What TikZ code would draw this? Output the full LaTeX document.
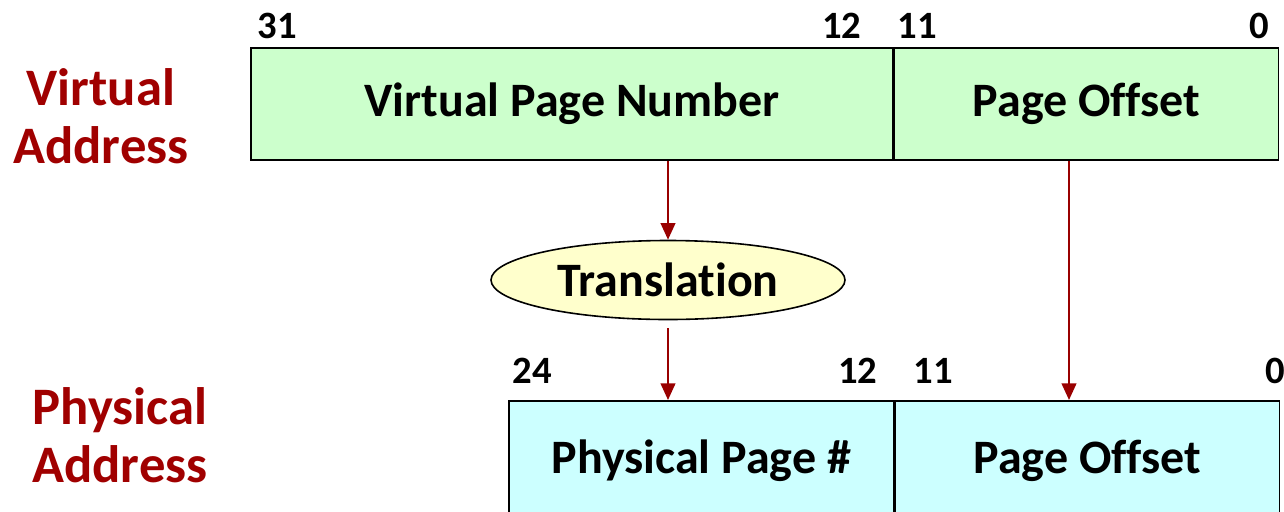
\documentclass[tikz,border=0pt]{standalone}
\usepackage{fontspec}
\setmainfont{Carlito}[Ligatures=NoCommon]
\usetikzlibrary{shapes.geometric,arrows.meta}
\definecolor{vgreen}{RGB}{204,255,204}
\definecolor{pcyan}{RGB}{204,255,255}
\definecolor{tyellow}{RGB}{255,255,204}
\definecolor{arrowred}{RGB}{153,0,0}
\definecolor{labelred}{RGB}{160,0,0}
\tikzset{every picture/.style={line width=0.75pt}}

\begin{document}
\begin{tikzpicture}[x=0.75pt,y=0.75pt,yscale=-1,xscale=1,
  field/.style={draw,line width=1.2pt,inner sep=0pt,font=\fontsize{36}{40}\selectfont\bfseries},
  bitno/.style={inner sep=0pt,font=\fontsize{29}{30}\selectfont\bfseries},
  flow/.style={draw=arrowred,line width=1.6pt,-{Triangle[width=11pt,length=12.5pt]}},
  side/.style={text=labelred,align=center,inner sep=0pt,font=\fontsize{39.5}{43.5}\selectfont\bfseries}]
\useasboundingbox (0,0) rectangle (1284,511);

%Virtual address fields
\node[field,fill=vgreen,minimum width=481.5pt,minimum height=84pt] (vpn) at (572,104) {Virtual Page Number};
\node[field,fill=vgreen,minimum width=288pt,minimum height=84pt,anchor=west] (vpo) at (vpn.east) {Page Offset};

%Physical address fields
\node[field,fill=pcyan,minimum width=288.75pt,minimum height=90pt,anchor=north west] (ppn) at (508,400) {Physical Page \#};
\node[field,fill=pcyan,minimum width=288pt,minimum height=90pt,anchor=north west] (ppo) at (ppn.north east) {Page Offset};

%Translation
\node[field,ellipse,fill=tyellow,minimum width=265.5pt,minimum height=59.25pt] (trans) at (668,280) {Translation};

%Bit numbers
\node[bitno,anchor=base west] (v31) at (257,38) {31};
\node[bitno,anchor=base east] (v12) at (862,38) {12};
\node[bitno,anchor=base west] (v11) at (897,38) {11};
\node[bitno,anchor=base east] (v0) at (1270,38) {0};
\node[bitno,anchor=base west] (p24) at (512,383) {24};
\node[bitno,anchor=base east] (p12) at (878,383) {12};
\node[bitno,anchor=base west] (p11) at (913,383) {11};
\node[bitno,anchor=base west] (p0) at (1265,383) {0};

%Side labels
\node[side] (vaddr) at (101,116) {Virtual\\Address};
\node[side] (paddr) at (120,435) {Physical\\Address};

%Arrows
\coordinate (offx) at (1069,0);
\draw[flow] (vpn.south -| trans) -- (trans.north);
\draw[flow,shorten <=6pt] (trans.south) -- (ppn.north -| trans);
\draw[flow] (vpo.south -| offx) -- (ppo.north -| offx);
\end{tikzpicture}
\end{document}
